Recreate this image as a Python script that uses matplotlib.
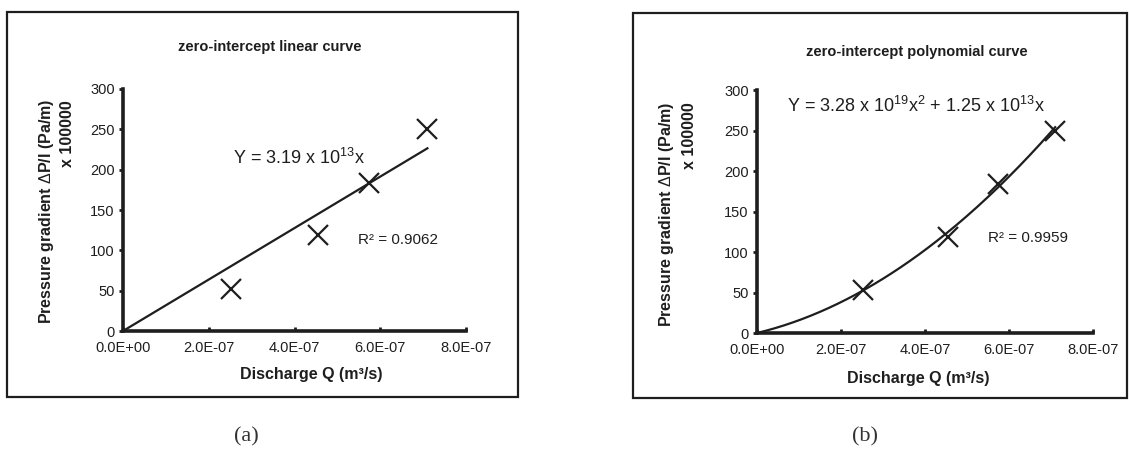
import matplotlib
matplotlib.use("Agg")
import matplotlib.pyplot as plt
from matplotlib.patches import Rectangle
from matplotlib.ticker import FuncFormatter
import numpy as np

plt.rcParams['font.family'] = ['Liberation Sans', 'DejaVu Sans']
plt.rcParams['mathtext.fontset'] = 'custom'
plt.rcParams['mathtext.rm'] = 'Liberation Sans'
plt.rcParams['mathtext.it'] = 'Liberation Sans:italic:bold'
plt.rcParams['mathtext.bf'] = 'Liberation Sans:bold'

# measured points (discharge in m3/s, pressure gradient in Pa/m / 1e5)
discharge = [2.53e-7, 4.55e-7, 5.73e-7, 7.10e-7]
pressure = [52.5, 118.5, 183.5, 250.0]

# trend line coefficients (Pa/m), from the chart labels
lin_a = 3.19e13
poly_a2 = 3.28e19
poly_a1 = 1.25e13
r2_lin = 0.9062
r2_poly = 0.9959

x_ticks = [0, 2e-7, 4e-7, 6e-7, 8e-7]
y_ticks = [0, 50, 100, 150, 200, 250, 300]

titles = ["zero-intercept linear curve", "zero-intercept polynomial curve"]
captions = ["(a)", "(b)"]

ink = '#1e1e1e'
W, H = 1129, 469
fig = plt.figure(figsize=(W / 100, H / 100), dpi=100)


def fx(px):
    return px / W


def fy(py):
    return 1 - py / H


# outer boxes
for (x0, y0, x1, y1) in [(7, 12, 518, 397), (633, 13, 1127, 398)]:
    fig.patches.append(Rectangle((fx(x0), fy(y1)), fx(x1 - x0), (y1 - y0) / H,
                                 transform=fig.transFigure, fill=False,
                                 edgecolor=ink, linewidth=1.6))

ax1 = fig.add_axes([fx(123), fy(331), fx(343), 242 / H])
ax2 = fig.add_axes([fx(757), fy(333), fx(336), 243 / H])

xfit = np.linspace(0, discharge[-1], 200)
ax1.plot(xfit, lin_a * xfit / 1e5, color=ink, lw=1.6)
ax2.plot(xfit, (poly_a2 * xfit ** 2 + poly_a1 * xfit) / 1e5, color=ink, lw=1.6)

for ax in (ax1, ax2):
    ax.plot(discharge, pressure, linestyle='none', marker='x', markersize=14,
            markeredgewidth=1.6, color=ink)
    ax.set_xlim(0, 8e-7)
    ax.set_ylim(0, 300)
    ax.set_xticks(x_ticks)
    ax.set_yticks(y_ticks)
    ax.xaxis.set_major_formatter(FuncFormatter(lambda v, p: '{:.1E}'.format(v)))
    for s in ('top', 'right'):
        ax.spines[s].set_visible(False)
    for s in ('left', 'bottom'):
        ax.spines[s].set_linewidth(2.6)
        ax.spines[s].set_color(ink)
    ax.tick_params(axis='x', direction='in', length=3, width=2, pad=7,
                   labelsize=10.5, colors=ink)
    ax.tick_params(axis='y', direction='out', length=3, width=2, pad=3,
                   labelsize=10.5, colors=ink)
    ax.patch.set_alpha(0)

# titles, axis labels
layout = [
    dict(title=(270, 47), xlab=(311, 375), yl1=47, yl2=67, ymid=211, ytop=100,
         eq=(233, 158), r2=(358, 240)),
    dict(title=(917, 52), xlab=(918, 378), yl1=667, yl2=689, ymid=214, ytop=102,
         eq=(787, 106), r2=(988, 238)),
]
eqs = [r"Y = 3.19 x 10$^{13}$x",
       r"Y = 3.28 x 10$^{19}$x$^{2}$ + 1.25 x 10$^{13}$x"]
r2s = [r2_lin, r2_poly]

for i, L in enumerate(layout):
    fig.text(fx(L['title'][0]), fy(L['title'][1]), titles[i], ha='center',
             va='center', fontsize=10.5, fontweight='bold', color=ink)
    fig.text(fx(L['xlab'][0]), fy(L['xlab'][1]), "Discharge Q (m³/s)",
             ha='center', va='center', fontsize=11.5, fontweight='bold', color=ink)
    fig.text(fx(L['yl1']), fy(L['ymid']),
             r"Pressure gradient $\mathit{\Delta}$P/l (Pa/m)", rotation=90,
             ha='center', va='center', fontsize=11.5, fontweight='bold', color=ink)
    fig.text(fx(L['yl2']), fy(L['ytop']), "x 100000", rotation=90,
             ha='center', va='top', fontsize=11.5, fontweight='bold', color=ink)
    fig.text(fx(L['eq'][0]), fy(L['eq'][1]), eqs[i], ha='left', va='center',
             fontsize=13, color=ink)
    fig.text(fx(L['r2'][0]), fy(L['r2'][1]), "R² = {:.4f}".format(r2s[i]),
             ha='left', va='center', fontsize=11, color=ink)

fig.text(fx(246), fy(437), captions[0], ha='center', va='center', fontsize=16,
         family='Liberation Serif', color='#333333')
fig.text(fx(865), fy(437), captions[1], ha='center', va='center', fontsize=16,
         family='Liberation Serif', color='#333333')

fig.savefig('out.png', dpi=100)
